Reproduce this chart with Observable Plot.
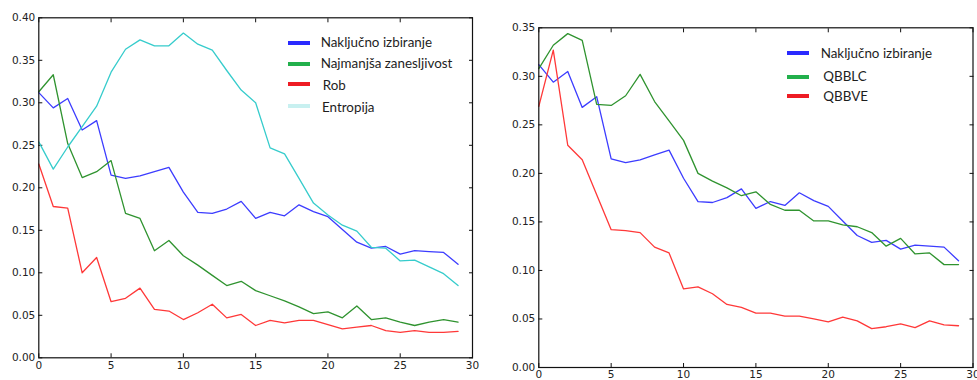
<!DOCTYPE html>
<html>
<head>
<meta charset="utf-8">
<script src="https://cdn.jsdelivr.net/npm/d3@7"></script>
<script src="https://cdn.jsdelivr.net/npm/@observablehq/plot@0.6"></script>
<style>
  body { margin: 0; background: #fff; }
  #wrap { position: relative; width: 977px; height: 380px; overflow: hidden; }
  .panel { position: absolute; top: 0; }
  .legend { position: absolute; left: 0; top: 0; font-family: Lato, sans-serif; font-size: 13.4px; color: #1e1e1e; }
  .legend .label { position: absolute; white-space: nowrap; transform: translateY(-50%); line-height: 16px; }
  .legend .swatch { position: absolute; width: 22px; height: 4px; transform: translateY(-50%); }
</style>
</head>
<body>
<div id="wrap"></div>
<script>
// Iteration index (x axis)
const iterations = d3.range(30);

// Left chart: classification error per iteration
const nakljucno = [0.312, 0.294, 0.305, 0.268, 0.279, 0.215, 0.211, 0.214, 0.219, 0.224,
                   0.195, 0.171, 0.170, 0.175, 0.184, 0.164, 0.171, 0.167, 0.180, 0.172,
                   0.166, 0.151, 0.136, 0.129, 0.131, 0.122, 0.126, 0.125, 0.124, 0.110];
const najmanjsa = [0.313, 0.333, 0.252, 0.212, 0.219, 0.232, 0.170, 0.164, 0.126, 0.138,
                   0.120, 0.109, 0.097, 0.085, 0.090, 0.079, 0.073, 0.067, 0.060, 0.052,
                   0.054, 0.047, 0.061, 0.045, 0.047, 0.042, 0.038, 0.042, 0.045, 0.042];
const rob = [0.228, 0.178, 0.176, 0.100, 0.118, 0.066, 0.070, 0.082, 0.057, 0.055,
             0.045, 0.053, 0.063, 0.047, 0.051, 0.038, 0.044, 0.041, 0.044, 0.044,
             0.039, 0.034, 0.036, 0.038, 0.032, 0.030, 0.032, 0.030, 0.030, 0.031];
const entropija = [0.254, 0.222, 0.248, 0.272, 0.296, 0.336, 0.363, 0.374, 0.367, 0.367,
                   0.382, 0.369, 0.362, 0.338, 0.315, 0.300, 0.247, 0.240, 0.211, 0.182,
                   0.168, 0.156, 0.149, 0.130, 0.129, 0.114, 0.115, 0.107, 0.099, 0.085];

// Right chart: QBB variants compared with random selection
const qbblc = [0.308, 0.332, 0.344, 0.337, 0.271, 0.270, 0.280, 0.302, 0.274, 0.254,
               0.234, 0.200, 0.192, 0.185, 0.177, 0.181, 0.168, 0.162, 0.162, 0.151,
               0.151, 0.147, 0.145, 0.139, 0.125, 0.133, 0.117, 0.118, 0.106, 0.106];
const qbbve = [0.269, 0.327, 0.229, 0.214, 0.178, 0.142, 0.141, 0.139, 0.124, 0.118,
               0.081, 0.083, 0.076, 0.065, 0.062, 0.056, 0.056, 0.053, 0.053, 0.050,
               0.047, 0.052, 0.048, 0.040, 0.042, 0.045, 0.041, 0.048, 0.044, 0.043];

// Tick values
const xTicks = [0, 5, 10, 15, 20, 25, 30];
const yTicksLeft = [0, 0.05, 0.10, 0.15, 0.20, 0.25, 0.30, 0.35, 0.40];
const yTicksRight = [0, 0.05, 0.10, 0.15, 0.20, 0.25, 0.30, 0.35];

// Series definitions: name, values, line colour, legend colour
const leftSeries = [
  {name: "Naključno izbiranje", values: nakljucno, stroke: "#3c3cff", swatch: "#2a2aff"},
  {name: "Najmanjša zanesljivost", values: najmanjsa, stroke: "#2f932f", swatch: "#22b04c"},
  {name: "Rob", values: rob, stroke: "#ff3838", swatch: "#ee1c24"},
  {name: "Entropija", values: entropija, stroke: "#36cccc", swatch: "#c8f0f0"}
];
const rightSeries = [
  {name: "Naključno izbiranje", values: nakljucno, stroke: "#3c3cff", swatch: "#2a2aff"},
  {name: "QBBLC", values: qbblc, stroke: "#2f932f", swatch: "#22b04c"},
  {name: "QBBVE", values: qbbve, stroke: "#ff3838", swatch: "#ee1c24"}
];

function drawPanel({series, yMax, yTicks, left, width, margins}) {
  const rows = series.flatMap(s => s.values.map((v, i) => ({it: iterations[i], err: v, name: s.name})));
  const fmt = d3.format(".2f");
  const chart = Plot.plot({
    width,
    height: 380,
    marginLeft: margins.left,
    marginRight: margins.right,
    marginTop: margins.top,
    marginBottom: margins.bottom,
    style: {fontFamily: "DejaVu Sans, sans-serif", fontSize: "10.5px", color: "#222", background: "transparent"},
    x: {domain: [0, 30], label: null},
    y: {domain: [0, yMax], label: null},
    color: {domain: series.map(s => s.name), range: series.map(s => s.stroke)},
    marks: [
      // inward ticks with labels on bottom/left
      Plot.axisX({ticks: xTicks, tickFormat: d => d, tickSize: -4, tickPadding: 7.5, label: null, stroke: "#111"}),
      Plot.axisY({ticks: yTicks, tickFormat: fmt, tickSize: -4, tickPadding: 7.5, label: null, stroke: "#111"}),
      // mirrored inward ticks on top/right
      Plot.axisX({anchor: "top", ticks: xTicks, tickFormat: () => "", tickSize: -4, label: null, stroke: "#111"}),
      Plot.axisY({anchor: "right", ticks: yTicks, tickFormat: () => "", tickSize: -4, label: null, stroke: "#111"}),
      Plot.line(rows, {x: "it", y: "err", z: "name", stroke: "name", strokeWidth: 1.3}),
      Plot.frame({stroke: "#111", strokeWidth: 1.2})
    ]
  });
  chart.classList.add("panel");
  chart.style.left = left + "px";
  document.getElementById("wrap").appendChild(chart);
}

function drawLegend(series, items) {
  const box = document.createElement("div");
  box.className = "legend";
  series.forEach((s, i) => {
    const it = items[i];
    const sw = document.createElement("div");
    sw.className = "swatch";
    sw.style.left = it.sx + "px";
    sw.style.top = it.sy + "px";
    sw.style.background = s.swatch;
    const lab = document.createElement("div");
    lab.className = "label";
    lab.style.left = it.tx + "px";
    lab.style.top = it.ty + "px";
    lab.textContent = s.name;
    box.appendChild(sw);
    box.appendChild(lab);
  });
  document.getElementById("wrap").appendChild(box);
}

drawPanel({series: leftSeries, yMax: 0.40, yTicks: yTicksLeft, left: 0, width: 480,
           margins: {left: 38.3, right: 8, top: 17.3, bottom: 22.7}});
drawPanel({series: rightSeries, yMax: 0.35, yTicks: yTicksRight, left: 480, width: 497,
           margins: {left: 58.3, right: 4.5, top: 27.3, bottom: 13}});

drawLegend(leftSeries, [
  {sx: 288, sy: 42.5, tx: 320.7, ty: 41.7},
  {sx: 288, sy: 64.3, tx: 320.7, ty: 63.3},
  {sx: 288, sy: 83.5, tx: 322.7, ty: 85.3},
  {sx: 288, sy: 106, tx: 322, ty: 107}
]);
drawLegend(rightSeries, [
  {sx: 787.3, sy: 53.3, tx: 820.7, ty: 53},
  {sx: 787.3, sy: 76.5, tx: 823.3, ty: 76},
  {sx: 787.3, sy: 96, tx: 823.3, ty: 96}
]);
</script>
</body>
</html>
